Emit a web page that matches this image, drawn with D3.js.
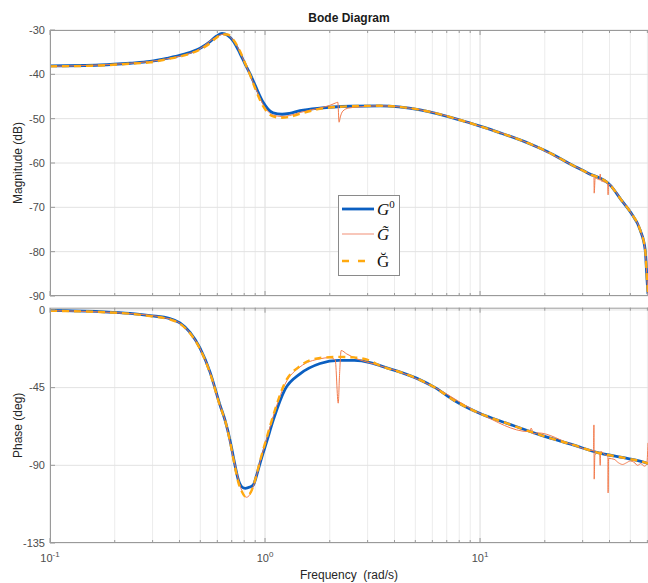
<!DOCTYPE html>
<html>
<head>
<meta charset="utf-8">
<script src="https://cdn.jsdelivr.net/npm/d3@7"></script>
<style>
  body { margin: 0; background: #fff; }
  svg text { font-family: "Liberation Sans", Arial, sans-serif; }
</style>
</head>
<body>
<svg id="chart" width="648" height="583"></svg>
<script>
// magnitude, blue G0 and dashed orange share frequencies
var wMag = [0.1, 0.171, 0.236, 0.292, 0.349, 0.417, 0.499, 0.555, 0.596, 0.631, 0.67, 0.712, 0.765, 0.81, 0.85, 0.9, 0.98, 1.09, 1.2, 1.3, 1.455, 1.8, 2.5, 3.43, 5.26, 8.07, 10, 12.4, 17.1, 20.7, 25.7, 31.8, 40.3, 45.3, 50.4, 55.5, 58.6, 59.8, 60.4];
var magG0 = [-38.1, -37.9, -37.5, -37.1, -36.4, -35.5, -34.1, -32.6, -31.35, -30.75, -31.2, -32.5, -35.3, -37.8, -39.8, -42.5, -46.3, -48.7, -49.0, -48.8, -48.2, -47.6, -47.2, -47.1, -48.0, -50.3, -51.7, -53.2, -55.7, -57.5, -60.0, -62.3, -65.0, -68.3, -71.3, -75.1, -79.6, -86.5, -89.5];
var magGbreve = [-38.2, -38.0, -37.6, -37.3, -36.6, -35.8, -34.4, -33.0, -31.7, -31.0, -31.0, -32.2, -34.8, -37.6, -40.0, -43.2, -47.2, -49.5, -49.8, -49.6, -48.9, -47.8, -47.2, -47.1, -48.0, -50.3, -51.7, -53.2, -55.7, -57.5, -60.0, -62.3, -65.0, -68.3, -71.3, -75.1, -79.6, -86.5, -89.5];

// thin G~ curve has its own frequencies (spikes)
var wMagR = [0.1, 0.236, 0.349, 0.499, 0.596, 0.65, 0.712, 0.81, 0.9, 0.98, 1.09, 1.2, 1.3, 1.455, 1.8, 2.0, 2.12, 2.18, 2.21, 2.24, 2.3, 2.45, 2.8, 3.43, 5.26, 10, 17.1, 25.7, 31.8, 33.7, 33.85, 33.95, 34.3, 36.0, 36.2, 36.5, 39.2, 39.4, 39.6, 45.3, 50.4, 55.5, 58.6, 59.8, 60.4];
var magGtilde = [-38.2, -37.5, -36.5, -34.2, -31.5, -30.9, -32.3, -37.7, -42.9, -46.8, -49.2, -49.5, -49.3, -48.6, -47.6, -47.0, -46.5, -46.3, -50.8, -49.6, -48.3, -47.6, -47.3, -47.1, -48.0, -51.7, -55.7, -60.0, -62.3, -63.0, -62.7, -66.8, -63.4, -63.8, -62.5, -64.0, -64.5, -67.2, -64.8, -68.3, -71.3, -75.1, -79.6, -86.5, -89.5];

// phase
var wPh = [0.1, 0.171, 0.236, 0.292, 0.361, 0.402, 0.448, 0.498, 0.555, 0.617, 0.652, 0.687, 0.712, 0.752, 0.779, 0.81, 0.85, 0.882, 0.915, 0.948, 1.018, 1.093, 1.239, 1.455, 1.803, 2.2, 2.6, 3.08, 3.43, 4.25, 5.26, 6.18, 7.49, 10, 13.35, 19.0, 27.1, 36.1, 48.3, 59.8, 60.4];
var phG0 = [-0.3, -1.0, -2.0, -3.3, -5.0, -7.5, -13, -22, -36, -55, -64, -75.3, -85, -98.5, -102.4, -103.3, -102.6, -101.4, -95.6, -88.8, -76.3, -63.7, -46, -37, -31, -29.2, -29.2, -30.5, -32.3, -36, -40.5, -45, -52, -60, -65.7, -72.4, -78.2, -83, -86, -88.8, -89];
var phGbreve = [-0.5, -1.2, -2.2, -3.6, -5.5, -8, -13.5, -22.5, -36.5, -55.5, -64, -76, -86, -100, -105, -108, -106.5, -102, -95, -87.5, -74, -61, -42, -32.5, -27.8, -27.2, -27.5, -29.5, -32.3, -36, -40.5, -45, -52, -60, -65.7, -72.4, -78.2, -83, -86, -88.8, -89];

var wPhR = [0.1, 0.236, 0.361, 0.402, 0.448, 0.498, 0.555, 0.617, 0.652, 0.712, 0.779, 0.82, 0.85, 0.915, 0.948, 1.018, 1.093, 1.239, 1.455, 1.803, 2.0, 2.12, 2.19, 2.22, 2.26, 2.4, 2.7, 3.08, 4.25, 6.18, 10, 16.9, 17.3, 17.7, 18.5, 27.1, 33.7, 33.85, 33.95, 34.2, 35.5, 36.0, 36.2, 36.4, 38.5, 39.3, 39.4, 39.6, 42, 44, 46, 48, 50, 52, 54, 56, 58, 59.6, 60.4];
var phGtilde = [-0.4, -2.1, -5.2, -7.7, -13.2, -22.2, -36.2, -55.2, -64, -85.5, -104.5, -108.5, -107, -95.5, -88, -74.5, -61.5, -43, -33, -28.3, -27.6, -29, -54, -38, -23.5, -25.5, -28.5, -30.7, -36, -45, -60, -70.5, -68.5, -71.8, -71.2, -78.2, -81.5, -66.6, -98, -84, -82.5, -83.5, -90, -82, -84.2, -84.5, -106, -86, -86.5, -88.5, -89.5, -88.5, -87.5, -88.2, -90, -89, -90.5, -89.5, -77];

var magTicks = [-30, -40, -50, -60, -70, -80, -90];
var phTicks = [0, -45, -90, -135];
var freqTicks = [0.1, 1, 10];

var left = 50, right = 648;
var svg = d3.select('#chart');

var x = d3.scaleLog().domain([0.1, 60.4]).range([left, right]);
var yMag = d3.scaleLinear().domain([-90, -30]).range([296, 30]);
var yPh = d3.scaleLinear().domain([-135, 1.3]).range([543, 307.7]);

// all 1..9 x 10^k inside the domain
var minor = [];
[0.1, 1, 10].forEach(function(dec) {
  for (var k = 1; k < 10; k++) {
    var v = dec * k;
    if (v >= 0.1 && v <= 60.4) minor.push(v);
  }
});

function zip(ws, vs) {
  return ws.map(function(w, i) { return [w, vs[i]]; });
}

function drawPanel(y, ticks, id, series) {
  var top = y.range()[1], bottom = y.range()[0];
  var g = svg.append('g');

  g.append('clipPath').attr('id', id)
    .append('rect')
    .attr('x', left).attr('y', top)
    .attr('width', right - left).attr('height', bottom - top);

  // grid
  g.selectAll('.vgrid')
    .data(minor)
    .enter()
    .append('line')
    .attr('x1', function(d) { return x(d); })
    .attr('x2', function(d) { return x(d); })
    .attr('y1', top).attr('y2', bottom)
    .attr('stroke', function(d) { return freqTicks.indexOf(d) >= 0 ? '#dcdcdc' : '#ececec'; })
    .attr('stroke-width', 1);

  g.selectAll('.hgrid')
    .data(ticks)
    .enter()
    .append('line')
    .attr('x1', left).attr('x2', right)
    .attr('y1', function(d) { return y(d); })
    .attr('y2', function(d) { return y(d); })
    .attr('stroke', '#e2e2e2');

  // curves
  var line = d3.line()
    .x(function(d) { return x(d[0]); })
    .y(function(d) { return y(d[1]); })
    .curve(d3.curveMonotoneX);

  var curves = g.append('g').attr('clip-path', 'url(#' + id + ')');
  series.forEach(function(s) {
    curves.append('path')
      .attr('d', line(s.data))
      .attr('fill', 'none')
      .attr('stroke', s.color)
      .attr('stroke-width', s.width)
      .attr('stroke-dasharray', s.dash || null)
      .attr('stroke-linejoin', 'round');
  });

  // frame
  g.append('path')
    .attr('d', 'M' + right + ',' + (top + 0.5) + 'H' + (left + 0.5) + 'V' + (bottom - 0.5) + 'H' + right)
    .attr('fill', 'none')
    .attr('stroke', '#9a9a9a');

  // ticks, pointing in
  var tk = g.append('g').attr('stroke', '#9a9a9a');
  minor.forEach(function(d) {
    var len = freqTicks.indexOf(d) >= 0 ? 5 : 3;
    tk.append('line').attr('x1', x(d)).attr('x2', x(d)).attr('y1', top).attr('y2', top + len);
    tk.append('line').attr('x1', x(d)).attr('x2', x(d)).attr('y1', bottom).attr('y2', bottom - len);
  });
  ticks.forEach(function(d) {
    tk.append('line').attr('x1', left).attr('x2', left + 5).attr('y1', y(d)).attr('y2', y(d));
  });

  g.selectAll('.ylab')
    .data(ticks)
    .enter()
    .append('text')
    .attr('x', left - 5)
    .attr('y', function(d) { return y(d); })
    .attr('dy', '0.35em')
    .attr('text-anchor', 'end')
    .attr('font-size', '11px')
    .attr('fill', '#4d4d4d')
    .text(function(d) { return d; });
}

var blue = '#0b5fc1', orange = '#ffa90f', red = '#f27a4c';

drawPanel(yMag, magTicks, 'clipMag', [
  { data: zip(wMag, magG0), color: blue, width: 2.8 },
  { data: zip(wMagR, magGtilde), color: red, width: 1 },
  { data: zip(wMag, magGbreve), color: orange, width: 2.4, dash: '7,5' }
]);

drawPanel(yPh, phTicks, 'clipPh', [
  { data: zip(wPh, phG0), color: blue, width: 2.8 },
  { data: zip(wPhR, phGtilde), color: red, width: 1 },
  { data: zip(wPh, phGbreve), color: orange, width: 2.4, dash: '7,5' }
]);

// x tick labels 10^k
var xl = svg.selectAll('.xlab')
  .data(freqTicks)
  .enter()
  .append('text')
  .attr('x', function(d) { return x(d); })
  .attr('y', 562)
  .attr('text-anchor', 'middle')
  .attr('font-size', '11px')
  .attr('fill', '#4d4d4d');
xl.append('tspan').text('10');
xl.append('tspan')
  .attr('dy', '-5')
  .attr('font-size', '8px')
  .text(function(d) { return Math.round(Math.log10(d)); });

// titles
svg.append('text')
  .attr('x', (left + right) / 2).attr('y', 22)
  .attr('text-anchor', 'middle')
  .attr('font-size', '12px')
  .attr('font-weight', 'bold')
  .attr('fill', '#1a1a1a')
  .text('Bode Diagram');

svg.append('text')
  .attr('x', (left + right) / 2).attr('y', 579)
  .attr('text-anchor', 'middle')
  .attr('font-size', '12px')
  .attr('fill', '#262626')
  .attr('xml:space', 'preserve')
  .style('white-space', 'pre')
  .text('Frequency  (rad/s)');

svg.append('text')
  .attr('transform', 'translate(22,' + (30 + 296) / 2 + ') rotate(-90)')
  .attr('text-anchor', 'middle')
  .attr('font-size', '12px')
  .attr('fill', '#262626')
  .text('Magnitude (dB)');

svg.append('text')
  .attr('transform', 'translate(22,' + (307.7 + 543) / 2 + ') rotate(-90)')
  .attr('text-anchor', 'middle')
  .attr('font-size', '12px')
  .attr('fill', '#262626')
  .text('Phase (deg)');

// legend
var lg = svg.append('g').attr('transform', 'translate(338,195)');
lg.append('rect')
  .attr('x', 0.5).attr('y', 0.5)
  .attr('width', 61).attr('height', 80)
  .attr('fill', '#fff')
  .attr('stroke', '#8a8a8a');

var legendItems = [
  { y: 14, color: blue, width: 2.8, dash: null, label: 'G', sup: '0', italic: true },
  { y: 39, color: '#f6b5a3', width: 1.5, dash: null, label: 'G\u0303', italic: true },
  { y: 66, color: orange, width: 2.4, dash: '7,9', label: '\u011E', italic: false }
];
legendItems.forEach(function(d) {
  lg.append('line')
    .attr('x1', 4).attr('x2', 36)
    .attr('y1', d.y).attr('y2', d.y)
    .attr('stroke', d.color)
    .attr('stroke-width', d.width)
    .attr('stroke-dasharray', d.dash);
  var t = lg.append('text')
    .attr('x', 39).attr('y', d.y + 6)
    .attr('font-size', '17px')
    .attr('fill', '#111')
    .style('font-family', '"Liberation Serif", "DejaVu Serif", serif')
    .style('font-style', d.italic ? 'italic' : 'normal')
    .text(d.label);
  if (d.sup) {
    t.append('tspan')
      .attr('dy', '-7')
      .attr('font-size', '11px')
      .style('font-style', 'normal')
      .text(d.sup);
  }
});
</script>
</body>
</html>
